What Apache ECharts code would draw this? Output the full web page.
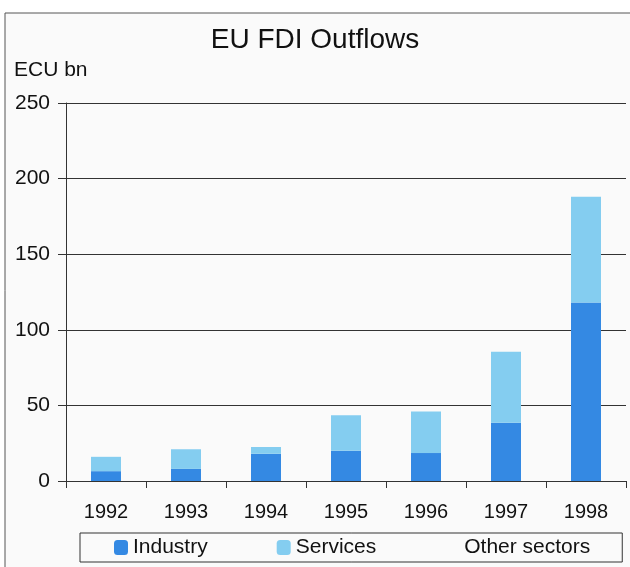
<!DOCTYPE html>
<html>
<head>
<meta charset="utf-8">
<script src="https://cdn.jsdelivr.net/npm/echarts@6/dist/echarts.min.js"></script>
<style>
  html, body { margin: 0; padding: 0; background: #fff; }
  #chart { width: 630px; height: 567px; }
</style>
</head>
<body>
<div id="chart"></div>
<script>
// values (ECU bn)
const years = ["1992", "1993", "1994", "1995", "1996", "1997", "1998"];
const industry = [6.5, 8, 18, 20, 18.5, 38.5, 118];
const services = [9.5, 13, 4.5, 23.5, 27.5, 47, 70];
const otherSectors = [0, 0, 0, 0, 0, 0, 0];
const yTicks = { min: 0, max: 250, interval: 50 };

const font = "Liberation Sans";
const chart = echarts.init(document.getElementById("chart"));

chart.setOption({
    backgroundColor: "#fff",
    animation: false,
    textStyle: { fontFamily: font },
    graphic: [
        {
            type: "rect",
            z: -10,
            shape: { x: 5, y: 13, width: 700, height: 700 },
            style: { fill: "#fafafa", stroke: "#555", lineWidth: 1 },
        },
        {
            type: "text",
            left: 14,
            top: 60,
            style: { text: "ECU bn", fontSize: 21, fontFamily: font, fill: "#111" },
        },
    ],
    title: {
        text: "EU FDI Outflows",
        left: "center",
        top: 21,
        textStyle: { fontSize: 28, fontWeight: "normal", color: "#111", fontFamily: font },
    },
    legend: {
        left: 80,
        top: 533,
        padding: [4, 32, 4, 34],
        itemGap: 69,
        itemWidth: 14,
        itemHeight: 15,
        borderColor: "#333",
        borderWidth: 1,
        textStyle: { fontSize: 21, color: "#111", fontFamily: font },
        data: [
            { name: "Industry" },
            { name: "Services" },
            { name: "Other sectors", icon: "none" },
        ],
    },
    grid: { left: 66, right: 4, top: 103, bottom: 86 },
    xAxis: {
        type: "category",
        data: years,
        axisLine: { lineStyle: { color: "#333" } },
        axisTick: { show: true, length: 7, lineStyle: { color: "#333" } },
        axisLabel: { fontSize: 20, color: "#111", margin: 21 },
    },
    yAxis: {
        type: "value",
        min: yTicks.min,
        max: yTicks.max,
        interval: yTicks.interval,
        axisLine: { show: true, lineStyle: { color: "#333" } },
        axisTick: { show: true, length: 8, lineStyle: { color: "#333" } },
        axisLabel: { fontSize: 21, color: "#111", margin: 16 },
        splitLine: { lineStyle: { color: "#333", width: 1 } },
    },
    series: [
        {
            name: "Industry",
            type: "bar",
            stack: "total",
            barWidth: 30,
            data: industry,
            itemStyle: { color: "#3489e3" },
        },
        {
            name: "Services",
            type: "bar",
            stack: "total",
            data: services,
            itemStyle: { color: "#84cdf0" },
        },
        {
            name: "Other sectors",
            type: "bar",
            stack: "total",
            data: otherSectors,
            itemStyle: { color: "#d8d8d8" },
        },
    ],
});
</script>
</body>
</html>
